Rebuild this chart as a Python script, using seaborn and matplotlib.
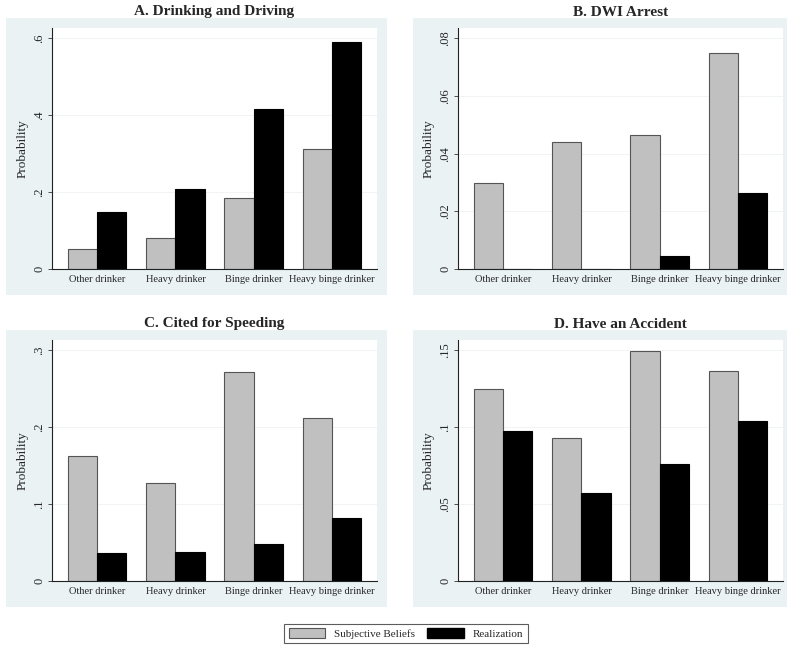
import pandas as pd
import matplotlib.pyplot as plt
import seaborn as sns
from matplotlib.patches import Rectangle, Patch

# values
groups = ["Other drinker", "Heavy drinker", "Binge drinker", "Heavy binge drinker"]
series = ["Subjective Beliefs", "Realization"]

titles = ["A. Drinking and Driving", "B. DWI Arrest", "C. Cited for Speeding", "D. Have an Accident"]

drive_beliefs = [0.051, 0.081, 0.184, 0.311]
drive_real = [0.148, 0.208, 0.415, 0.591]

dwi_beliefs = [0.0297, 0.0439, 0.0464, 0.0750]
dwi_real = [0.0, 0.0, 0.0045, 0.0262]

speed_beliefs = [0.163, 0.127, 0.272, 0.212]
speed_real = [0.0364, 0.038, 0.0476, 0.0818]

accident_beliefs = [0.1246, 0.0929, 0.1494, 0.1365]
accident_real = [0.0977, 0.0571, 0.0762, 0.1042]

yticks = [
    ([0, 0.2, 0.4, 0.6], ["0", ".2", ".4", ".6"]),
    ([0, 0.02, 0.04, 0.06, 0.08], ["0", ".02", ".04", ".06", ".08"]),
    ([0, 0.1, 0.2, 0.3], ["0", ".1", ".2", ".3"]),
    ([0, 0.05, 0.1, 0.15], ["0", ".05", ".1", ".15"]),
]

panel_data = [
    (drive_beliefs, drive_real),
    (dwi_beliefs, dwi_real),
    (speed_beliefs, speed_real),
    (accident_beliefs, accident_real),
]

sns.set_style("white")
plt.rcParams['font.family'] = ['Liberation Serif', 'DejaVu Serif']

BG = "#EAF2F3"
palette = {"Subjective Beliefs": "#C0C0C0", "Realization": "#000000"}

fig = plt.figure(figsize=(8, 6.51), dpi=100)
W, H = 800, 651

# panel boxes (pixel coords: left, top, right, bottom) and plot areas
boxes = [(6, 18, 387, 295), (413, 18, 787, 295), (6, 330, 387, 607), (413, 330, 787, 607)]
plots = [(52, 28, 377, 269), (458, 28, 783, 269), (52, 340, 377, 581), (458, 340, 783, 581)]

for i in range(4):
    bl, bt, br, bb = boxes[i]
    fig.add_artist(Rectangle((bl / W, 1 - bb / H), (br - bl) / W, (bb - bt) / H,
                             transform=fig.transFigure, facecolor=BG, edgecolor="none", zorder=-5))
    pl, pt, pr, pb = plots[i]
    ax = fig.add_axes([pl / W, 1 - pb / H, (pr - pl) / W, (pb - pt) / H])
    ax.set_zorder(1)
    ax.set_facecolor("white")

    beliefs, real = panel_data[i]
    df = pd.DataFrame({
        "group": groups * 2,
        "series": [series[0]] * 4 + [series[1]] * 4,
        "value": beliefs + real,
    })
    sns.barplot(data=df, x="group", y="value", hue="series", order=groups, hue_order=series,
                palette=palette, width=0.745, gap=0, ax=ax, legend=False,
                edgecolor="#555555", linewidth=0.8, saturation=1)
    for p in ax.patches:
        if p.get_facecolor()[0] < 0.1:
            p.set_edgecolor("black")

    ticks, labels = yticks[i]
    ax.set_ylim(0, ticks[-1] * 1.045)
    ax.set_xlim(-0.58, 3.58)
    ax.set_yticks(ticks)
    ax.set_yticklabels(labels, rotation=90, va="center", fontsize=9)
    ax.tick_params(axis="y", length=3, width=0.6, color="#333333", pad=2, left=True)
    ax.tick_params(axis="x", length=0, labelsize=7.5, pad=4)
    ax.set_xlabel("")
    ax.set_ylabel("Probability", fontsize=9.5, labelpad=3)
    for t in ticks[1:]:
        ax.axhline(t, color="#EEF3F4", linewidth=0.6, zorder=0)
    ax.set_axisbelow(True)
    for s in ["top", "right"]:
        ax.spines[s].set_visible(False)
    for s in ["left", "bottom"]:
        ax.spines[s].set_color("#222222")
        ax.spines[s].set_linewidth(0.8)
    ax.set_title(titles[i], fontsize=11, fontweight="bold", pad=9)

handles = [Patch(facecolor="#C0C0C0", edgecolor="#555555", linewidth=0.8, label=series[0]),
           Patch(facecolor="#000000", edgecolor="black", label=series[1])]
leg = fig.legend(handles=handles, loc="center", bbox_to_anchor=(406 / W, 1 - 633.5 / H), ncol=2,
                 fontsize=8, frameon=True, fancybox=False, edgecolor="#333333",
                 handlelength=3.3, handleheight=0.9, columnspacing=1.1, borderpad=0.4,
                 handletextpad=0.8, borderaxespad=0.2)
leg.get_frame().set_linewidth(0.8)

fig.savefig("out.png", dpi=100, facecolor="white")
